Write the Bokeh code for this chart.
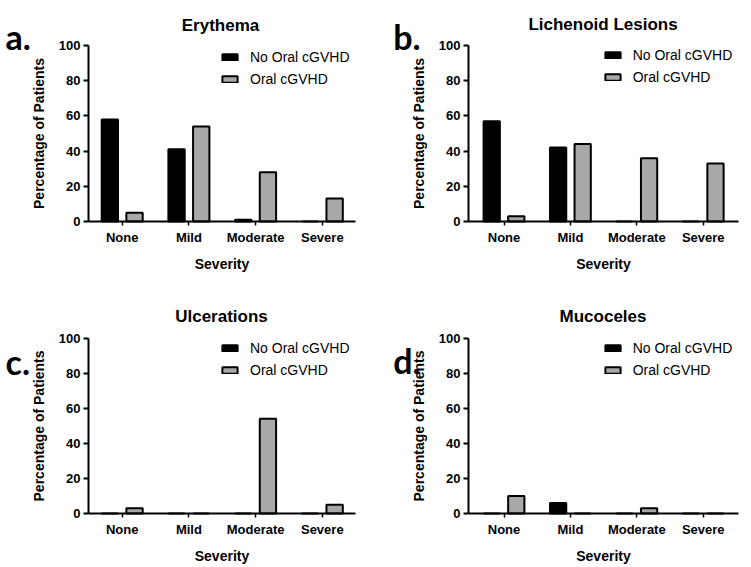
from bokeh.plotting import figure
from bokeh.models import Range1d, FixedTicker, Label, Legend, LegendItem, ColumnDataSource
from bokeh.layouts import column, row
from bokeh.embed import file_html
from bokeh.resources import INLINE
from bokeh.transform import dodge

# ---- data ----
categories = ["None", "Mild", "Moderate", "Severe"]
series_names = ["No Oral cGVHD", "Oral cGVHD"]
erythema_no = [58, 41, 1, 0]
erythema_oral = [5, 54, 28, 13]
lichenoid_no = [57, 42, 0, 0]
lichenoid_oral = [3, 44, 36, 33]
ulcerations_no = [0, 0, 0, 0]
ulcerations_oral = [3, 0, 54, 5]
mucoceles_no = [0, 6, 0, 0]
mucoceles_oral = [10, 0, 3, 0]
y_ticks = [0, 20, 40, 60, 80, 100]
panel_titles = ["Erythema", "Lichenoid Lesions", "Ulcerations", "Mucoceles"]
panel_letters = ["a.", "b.", "c.", "d."]
y_label = "Percentage of Patients"
x_label = "Severity"

FONT = "Liberation Sans"
GREY = "#a8a8a8"


def panel(title, letter, no_vals, oral_vals, W, H, geo, title_px, letter_px, legend_px,
          xlabel_standoff=8):
    # geo: pixel layout of the panel (left of y axis, centre of first group,
    # px per group, right end of x axis, y pixel of 0 and of 100)
    axis_x, x0, unit, axis_end, y0, y100 = geo
    ppy = (y0 - y100) / 100.0
    xs, xe = (0 - x0) / unit, (W - x0) / unit
    ys, ye = (y0 - H) / ppy, y0 / ppy
    ax_left = (axis_x - x0) / unit
    ax_right = (axis_end - x0) / unit

    def dx(px):
        return (px - x0) / unit

    def dy(py):
        return (y0 - py) / ppy

    p = figure(width=W, height=H, x_range=Range1d(xs, xe), y_range=Range1d(ys, ye),
               output_backend="svg", toolbar_location=None,
               min_border_left=0, min_border_right=0, min_border_top=0, min_border_bottom=0)
    p.outline_line_color = None
    p.xgrid.visible = False
    p.ygrid.visible = False
    p.background_fill_color = "white"
    p.border_fill_color = "white"

    src = ColumnDataSource(dict(x=list(range(len(categories))), no=no_vals, oral=oral_vals))
    r1 = p.vbar(x=dodge("x", -0.185, range=p.x_range), top="no", width=0.245, source=src,
                fill_color="black", line_color="black", line_width=2)
    r2 = p.vbar(x=dodge("x", 0.185, range=p.x_range), top="oral", width=0.245, source=src,
                fill_color=GREY, line_color="black", line_width=2)

    lx, ltop = legend_px
    legend = Legend(items=[LegendItem(label=series_names[0], renderers=[r1]),
                           LegendItem(label=series_names[1], renderers=[r2])],
                    location=(lx, H - (ltop + 42)), padding=0, margin=0, spacing=2,
                    glyph_width=19, glyph_height=8, label_standoff=11, label_height=20,
                    label_text_font=FONT, label_text_font_size="14px", label_text_color="black",
                    border_line_color=None, background_fill_alpha=0)
    p.add_layout(legend)

    # y axis
    ya = p.yaxis[0]
    ya.fixed_location = ax_left
    ya.bounds = (0, 100)
    ya.ticker = FixedTicker(ticks=y_ticks)
    ya.axis_line_width = 2
    ya.major_tick_line_width = 2
    ya.major_tick_out = 5
    ya.major_tick_in = 0
    ya.minor_tick_line_color = None
    ya.major_label_standoff = 3
    ya.major_label_text_font = FONT
    ya.major_label_text_font_size = "13px"
    ya.major_label_text_font_style = "bold"
    ya.major_label_text_color = "black"
    ya.axis_label = y_label
    ya.axis_label_text_font = FONT
    ya.axis_label_text_font_size = "14px"
    ya.axis_label_text_font_style = "bold"
    ya.axis_label_text_color = "black"
    ya.axis_label_standoff = 9

    # x axis
    xa = p.xaxis[0]
    xa.fixed_location = 0
    xa.bounds = (ax_left, ax_right)
    xa.ticker = FixedTicker(ticks=list(range(len(categories))))
    xa.major_label_overrides = {i: c for i, c in enumerate(categories)}
    xa.axis_line_width = 2
    xa.major_tick_line_width = 1.5
    xa.major_tick_out = 4
    xa.major_tick_in = 0
    xa.minor_tick_line_color = None
    xa.major_label_standoff = 4
    xa.major_label_text_font = FONT
    xa.major_label_text_font_size = "13px"
    xa.major_label_text_font_style = "bold"
    xa.major_label_text_color = "black"
    xa.axis_label = x_label
    xa.axis_label_text_font = FONT
    xa.axis_label_text_font_size = "14px"
    xa.axis_label_text_font_style = "bold"
    xa.axis_label_text_color = "black"
    xa.axis_label_standoff = xlabel_standoff

    tx, ty = title_px
    p.add_layout(Label(x=dx(tx), y=dy(ty), text=title, text_font=FONT, text_font_size="17px",
                       text_font_style="bold", text_color="black", text_align="center",
                       text_baseline="alphabetic"))
    lx2, ly2 = letter_px
    p.add_layout(Label(x=dx(lx2), y=dy(ly2), text=letter, text_font="Lato", text_font_size="34px",
                       text_font_style="bold", text_color="black", text_align="left",
                       text_baseline="alphabetic"))
    return p


pa = panel(panel_titles[0], panel_letters[0], erythema_no, erythema_oral, 375, 280,
           (88, 121.7, 66.7, 355, 221, 45), (220, 25), (5, 36), (220, 47))
pb = panel(panel_titles[1], panel_letters[1], lichenoid_no, lichenoid_oral, 375, 280,
           (93, 128.5, 66.4, 363, 221, 45), (227.5, 24), (17.7, 36), (227.7, 45))
pc = panel(panel_titles[2], panel_letters[2], ulcerations_no, ulcerations_oral, 375, 286,
           (88, 121.7, 66.7, 355, 233, 57.7), (221, 36), (5, 81), (220, 57.7))
pd = panel(panel_titles[3], panel_letters[3], mucoceles_no, mucoceles_oral, 375, 286,
           (93, 128.5, 66.4, 363, 233, 57.5), (227.5, 36), (17.7, 80), (227.7, 57.7))

layout = column(row(pa, pb), row(pc, pd))
open("out.html", "w").write(file_html(layout, INLINE))
